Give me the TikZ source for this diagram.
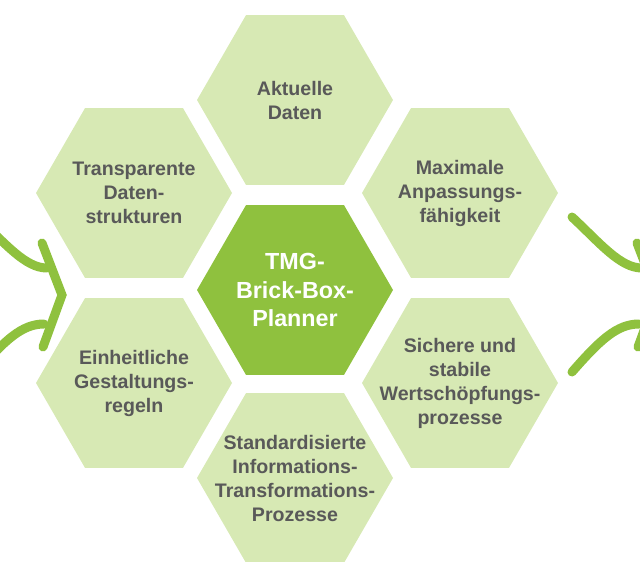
\documentclass[tikz,border=0pt]{standalone}
\usepackage{fontspec}
\setmainfont{Liberation Sans}
\usetikzlibrary{shapes.geometric}
\definecolor{hexlight}{HTML}{D7E9B4}
\definecolor{hexdark}{HTML}{8FC13E}
\definecolor{txtgray}{HTML}{595959}
\begin{document}
\begin{tikzpicture}[x=1pt,y=-1pt,
  hexbox/.style={regular polygon, regular polygon sides=6, minimum size=196pt,
    inner sep=0pt, outer sep=0pt, fill=hexlight, draw=none},
  hexcore/.style={hexbox, fill=hexdark},
  hextext/.style={text=txtgray, font=\fontsize{19.6}{24}\selectfont\bfseries,
    align=center, inner sep=0pt},
  coretext/.style={text=white, font=\fontsize{23.3}{28.8}\selectfont\bfseries,
    align=center, inner sep=0pt},
  flowline/.style={draw=hexdark, line width=9pt, line cap=round, line join=miter}]
\useasboundingbox (0,0) rectangle (640,562);

% side arrows (clipped at the picture edges)
\begin{scope}
  \clip (0,0) rectangle (640,562);
  \foreach \dx in {0,595} {
    \begin{scope}[shift={(\dx,0)}]
      \draw[flowline] (-23,217) .. controls (5,243) and (25,268) .. (47,268);
      \draw[flowline] (-23,372) .. controls (5,340) and (22,324) .. (44,324);
      \draw[flowline] (42,243) -- (62,295) -- (43,347);
    \end{scope}
  }
\end{scope}

% hexagons
\node[hexbox]  (top) at (295,100) {};
\node[hexbox]  (ul)  at (134,193) {};
\node[hexbox]  (ur)  at (460,193) {};
\node[hexcore] (mid) at (295,290) {};
\node[hexbox]  (ll)  at (134,383) {};
\node[hexbox]  (lr)  at (460,383) {};
\node[hexbox]  (bot) at (295,478) {};

% texts
\node[hextext]  (top-t) at (top) {Aktuelle\\Daten};
\node[hextext]  (ul-t)  at (ul)  {Transparente\\Daten-\\strukturen};
\node[hextext]  (ur-t)  at (ur)  {Maximale\\Anpassungs-\\fähigkeit};
\node[coretext] (mid-t) at (mid) {TMG-\\Brick-Box-\\Planner};
\node[hextext]  (ll-t)  at (ll)  {Einheitliche\\Gestaltungs-\\regeln};
\node[hextext]  (lr-t)  at (lr)  {Sichere und\\stabile\\Wertschöpfungs-\\prozesse};
\node[hextext]  (bot-t) at (bot) {Standardisierte\\Informations-\\Transformations-\\Prozesse};
\end{tikzpicture}
\end{document}
